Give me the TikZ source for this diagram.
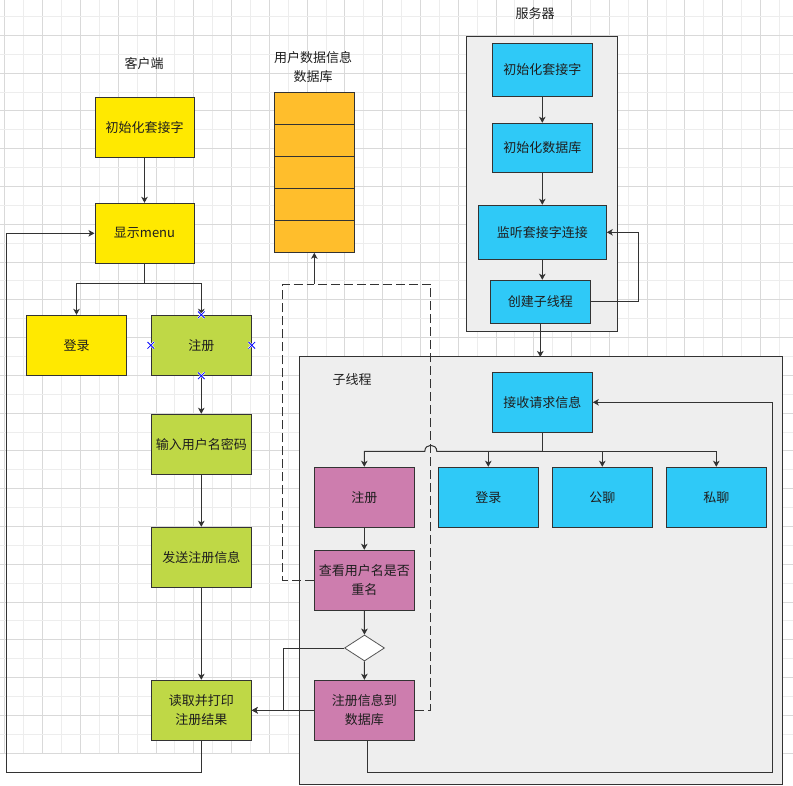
\documentclass[tikz,border=0pt]{standalone}
\usepackage{fontspec}
\setmainfont{Noto Sans CJK SC}
\usetikzlibrary{arrows.meta,shapes.geometric,calc}
\definecolor{lc}{HTML}{333333}
\definecolor{txt}{HTML}{1E1E1E}
\definecolor{yel}{HTML}{FFE900}
\definecolor{grn}{HTML}{BFD846}
\definecolor{blu}{HTML}{2FC9F7}
\definecolor{pur}{HTML}{CD7DAE}
\definecolor{org}{HTML}{FFBE2C}
\definecolor{cgray}{HTML}{EEEEEE}
\definecolor{gridA}{HTML}{D9D9D9}
\definecolor{gridB}{HTML}{EDEDED}
\definecolor{dg}{HTML}{555555}
\begin{document}
\begin{tikzpicture}[x=1pt,y=-1pt,
  box/.style={draw=lc,line width=1pt,inner sep=0pt,align=center,text=txt,font=\fontsize{13}{19}\selectfont},
  sz/.style n args={2}{minimum width=#1pt,minimum height=#2pt},
  lbl/.style={inner sep=0pt,align=center,text=txt,font=\fontsize{13}{19}\selectfont},
  cont/.style={draw=lc,line width=1pt,fill=cgray,inner sep=0pt},
  link/.style={draw=lc,line width=1pt},
  conn/.style={link,-{Stealth[length=6pt,width=6.5pt,inset=1.6pt]}},
  dashline/.style={link,dash pattern=on 9pt off 4pt},
  xmark/.style={draw=blue,line width=0.8pt}]
\useasboundingbox (0,0) rectangle (793,786);
\fill[white] (0,0) rectangle (793,786);
% grid
\foreach \k in {0,...,20} {
  \draw[gridB,line width=0.9pt] ({23.8+37.78*\k},0) -- ++(0,753);
  \draw[gridA,line width=0.9pt] ({4.9+37.78*\k},0) -- ++(0,753);
}
\foreach \k in {0,...,19} {
  \draw[gridB,line width=0.9pt] (0,{16.4+37.78*\k}) -- ++(793,0);
}
\foreach \k in {1,...,20} {
  \draw[gridA,line width=0.9pt] (0,{-2.5+37.78*\k}) -- ++(793,0);
}
% containers
\node[cont,sz={150.6}{295.3}] (srv) at (542,183.7) {};
\node[cont,sz={483}{427}] (sub) at (540.8,570.5) {};
% labels
\node[lbl] (lclient) at (144,64) {客户端};
\node[lbl] (ldb) at (313,67) {用户数据信息\\数据库};
\node[lbl] (lsrv) at (535,14) {服务器};
\node[lbl] (lsub) at (352,380) {子线程};
% client
\node[box,fill=yel,sz={99}{60}] (c1) at (144.5,127.3) {初始化套接字};
\node[box,fill=yel,sz={99}{60}] (c2) at (144.5,233.3) {显示menu};
\node[box,fill=yel,sz={100}{60}] (c3) at (76.5,345.3) {登录};
\node[box,fill=grn,sz={100}{60}] (c4) at (201.3,345.3) {注册};
\node[box,fill=grn,sz={100}{60}] (c5) at (201.3,444.3) {输入用户名密码};
\node[box,fill=grn,sz={100}{60}] (c6) at (201.3,557.3) {发送注册信息};
\node[box,fill=grn,sz={100}{60}] (c7) at (201.3,710.3) {读取并打印\\注册结果};
% database
\foreach \i/\yy in {1/108.3,2/140.3,3/172.3,4/204.3,5/236.3} {
  \node[box,fill=org,sz={80}{32}] (db\i) at (314.3,\yy) {};
}
% server
\node[box,fill=blu,sz={100}{53}] (s1) at (542.3,69.8) {初始化套接字};
\node[box,fill=blu,sz={100}{49}] (s2) at (542.3,147.8) {初始化数据库};
\node[box,fill=blu,sz={128}{54}] (s3) at (542.3,232.3) {监听套接字连接};
\node[box,fill=blu,sz={100}{43}] (s4) at (540.3,301.8) {创建子线程};
% sub thread
\node[box,fill=blu,sz={100}{60}] (t1) at (542.3,402.3) {接收请求信息};
\node[box,fill=pur,sz={100}{60}] (t2) at (364.3,497.3) {注册};
\node[box,fill=blu,sz={100}{60}] (t3) at (488.3,497.3) {登录};
\node[box,fill=blu,sz={100}{60}] (t4) at (602.3,497.3) {公聊};
\node[box,fill=blu,sz={100}{60}] (t5) at (716.3,497.3) {私聊};
\node[box,fill=pur,sz={100}{60}] (t6) at (364.3,580.3) {查看用户名是否\\重名};
\node[diamond,draw=dg,line width=0.8pt,fill=white,inner sep=0pt,minimum width=40pt,minimum height=26pt] (d) at (364.5,648) {};
\node[box,fill=pur,sz={100}{60}] (t7) at (364.3,710.3) {注册信息到\\数据库};
% client connectors
\draw[conn] (c1) -- (c2);
\coordinate (sp) at (144.5,283.3);
\draw[link] (c2.south) -- (sp);
\draw[conn] (sp) -| (c3.north);
\draw[conn] (sp) -| (c4.north);
\draw[conn] (c4) -- (c5);
\draw[conn] (c5) -- (c6);
\draw[conn] (c6) -- (c7);
\coordinate (cl1) at (6.3,772.3);
\draw[conn] (c7.south) |- (cl1) |- (c2.west);
% x marks on c4
\foreach \a in {north,south,east,west} {
  \draw[white,line width=2pt] (c4.\a) +(-3.3,-3.3) -- +(3.3,3.3) +(-3.3,3.3) -- +(3.3,-3.3);
  \draw[xmark] (c4.\a) +(-3.3,-3.3) -- +(3.3,3.3) +(-3.3,3.3) -- +(3.3,-3.3);
}
% server connectors
\draw[conn] (s1) -- (s2);
\draw[conn] (s2) -- (s3);
\draw[conn] (s3.south) -- (s3.south |- s4.north);
\coordinate (sl) at (638.3,232.3);
\draw[conn] (s4.east) -| (sl) -- (s3.east);
\coordinate (tt) at (540.3,357);
\draw[conn] (s4.south) -- (tt);
% sub thread connectors
\coordinate (bj) at (542.3,451.3);
\draw[link] (t1.south) -- (bj);
\draw[conn] (bj) -| (t3.north);
\draw[conn] (bj) -| (t4.north);
\draw[conn] (bj) -| (t5.north);
\draw[conn] (bj) -- (436.8,451.3) .. controls (436.8,443.3) and (424.8,443.3) .. (424.8,451.3) -| (t2.north);
\draw[conn] (t2) -- (t6);
\draw[conn] (t6) -- (d);
\draw[conn] (d) -- (t7);
\coordinate (dl) at (283.3,648);
\draw[conn] (d.west) -- (dl) |- (c7.east);
\draw[conn] (t7.west) -- (c7.east);
\coordinate (tl1) at (367.3,772.3);
\coordinate (tl2) at (772.3,772.3);
\draw[conn] (t7.south -| tl1) -- (tl1) -- (tl2) |- (t1.east);
% dashed database links
\coordinate (dbj) at (314.3,284.3);
\draw[dashline] (t6.west) -| (282.7,284.3) -- (dbj);
\draw[dashline] (t7.east) -| (430.7,284.3) -- (dbj);
\draw[conn] (dbj) -- (db5.south);
\end{tikzpicture}
\end{document}
